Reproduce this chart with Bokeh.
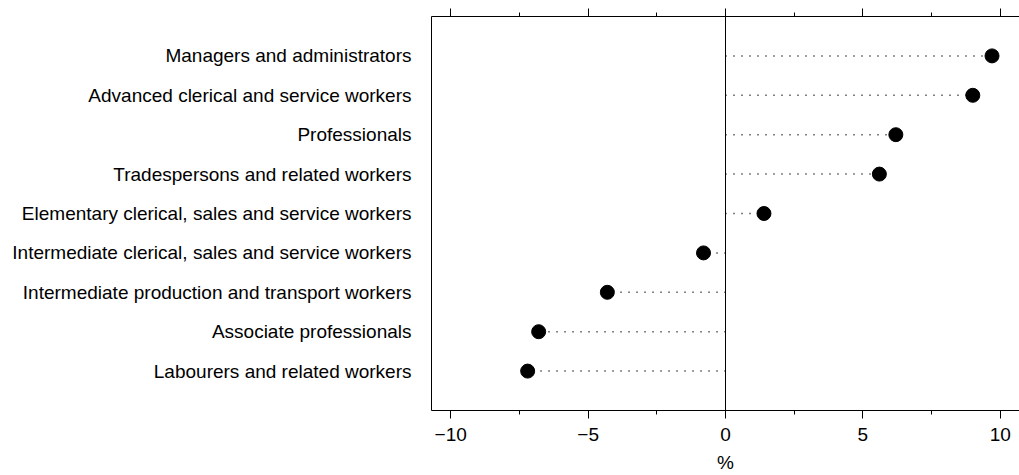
from bokeh.plotting import figure
from bokeh.models import (FactorRange, Range1d, LinearAxis, CategoricalAxis,
                          FixedTicker, Span, ColumnDataSource)
from bokeh.embed import file_html
from bokeh.resources import INLINE

categories = [
    "Managers and administrators",
    "Advanced clerical and service workers",
    "Professionals",
    "Tradespersons and related workers",
    "Elementary clerical, sales and service workers",
    "Intermediate clerical, sales and service workers",
    "Intermediate production and transport workers",
    "Associate professionals",
    "Labourers and related workers",
]
values = [9.7, 9.0, 6.2, 5.6, 1.4, -0.8, -4.3, -6.8, -7.2]
tick_values = [-10, -5, 0, 5, 10]
tick_labels = ["\u221210", "\u22125", "0", "5", "10"]
minor_tick_values = [-7.5, -2.5, 2.5, 7.5]
x_label = "%"

FONT = "Liberation Sans"
FS = "19px"

src = ColumnDataSource(dict(cat=categories, val=values, zero=[0] * len(values)))

p = figure(
    width=1019, height=475,
    y_range=FactorRange(factors=list(reversed(categories)), range_padding=1 / 9),
    x_range=Range1d(-10.7, 10.7),
    output_backend="svg", toolbar_location=None,
    x_axis_location=None, y_axis_location=None,
    min_border_left=431, min_border_right=0, min_border_top=16, min_border_bottom=65,
)
p.grid.visible = False
p.outline_line_color = None
p.background_fill_color = "white"
p.border_fill_color = "white"

ticker = FixedTicker(ticks=tick_values, minor_ticks=minor_tick_values)

def style_x(ax, show_labels):
    ax.ticker = ticker
    ax.axis_line_color = "black"
    ax.axis_line_width = 1
    ax.major_tick_in = 0
    ax.major_tick_out = 8
    ax.minor_tick_in = 0
    ax.minor_tick_out = 4
    ax.major_tick_line_color = "black"
    ax.minor_tick_line_color = "black"
    ax.major_label_text_font = FONT
    ax.major_label_text_font_size = FS
    ax.major_label_text_color = "black"
    if show_labels:
        ax.major_label_overrides = {v: l for v, l in zip(tick_values, tick_labels)}
        ax.major_label_standoff = 9
        ax.axis_label = x_label
        ax.axis_label_text_font = FONT
        ax.axis_label_text_font_size = FS
        ax.axis_label_text_font_style = "normal"
        ax.axis_label_text_color = "black"
        ax.axis_label_standoff = 8
    else:
        ax.major_label_overrides = {v: "" for v in tick_values}
        ax.major_label_standoff = 0

bottom = LinearAxis()
style_x(bottom, True)
top = LinearAxis()
style_x(top, False)
p.add_layout(bottom, "below")
p.add_layout(top, "above")

left = CategoricalAxis()
left.axis_line_color = "black"
left.major_tick_line_color = None
left.minor_tick_line_color = None
left.major_tick_out = 0
left.major_tick_in = 0
left.major_label_text_font = FONT
left.major_label_text_font_size = FS
left.major_label_text_color = "black"
left.major_label_standoff = 20
p.add_layout(left, "left")

p.add_layout(Span(location=0, dimension="height", line_color="black", line_width=1))

p.segment(x0="zero", y0="cat", x1="val", y1="cat", source=src,
          line_color="black", line_width=1.5, line_dash="1 7")
p.scatter(x="val", y="cat", source=src, size=14, fill_color="black", line_color="black")

open("out.html", "w").write(file_html(p, INLINE))
